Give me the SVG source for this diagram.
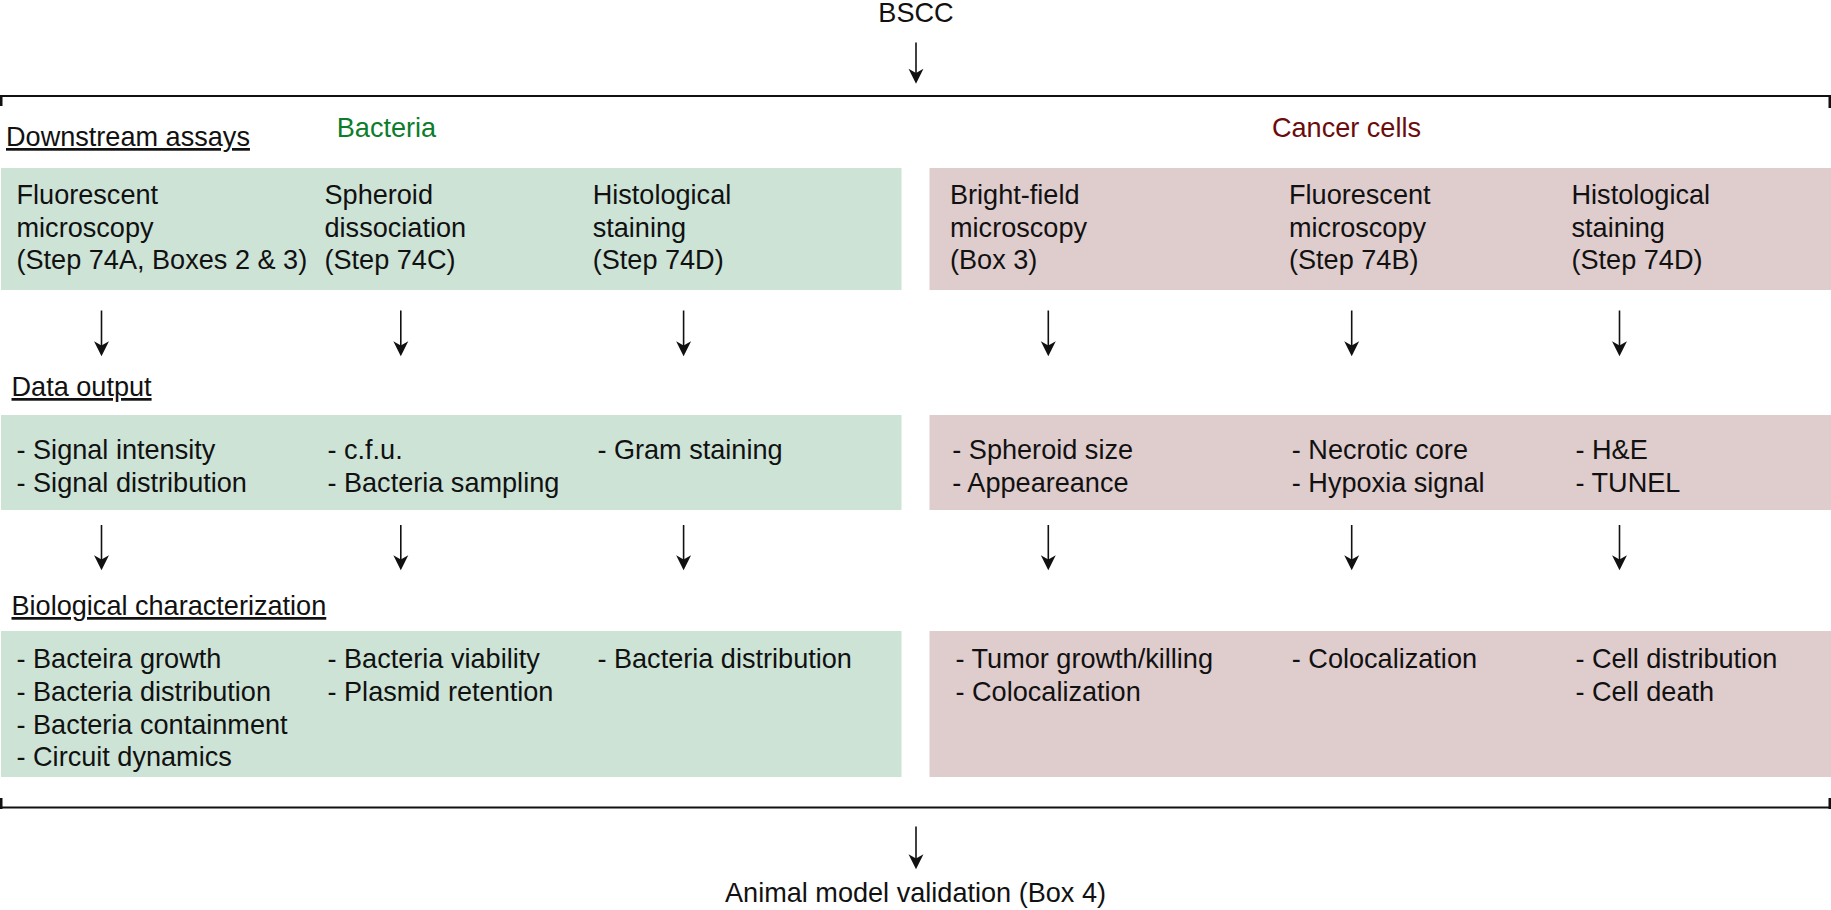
<svg xmlns="http://www.w3.org/2000/svg" width="1831" height="910" viewBox="0 0 1831 910">
<style>
text{font-family:"Liberation Sans",Arial,sans-serif;font-size:27.1px;fill:#111}
.c{text-anchor:middle}
.u{text-decoration:underline}
.g{fill:#cde3d6}
.p{fill:#dfcccd}
.arr{stroke:#111;stroke-width:1.6;fill:none;marker-end:url(#ah)}
.br{stroke:#111;stroke-width:2.2;fill:none}
.tk{fill:#111}
</style>
<defs>
<marker id="ah" markerUnits="userSpaceOnUse" markerWidth="16" markerHeight="16" viewBox="0 0 14 15" refX="10" refY="7.5" orient="auto">
<path d="M0,0.5 L14,7.5 L0,14.5 L4,7.5 Z" fill="#111"/>
</marker>
</defs>
<rect width="1831" height="910" fill="#fff"/>

<g id="bscc"><text class="c" x="916" y="22">BSCC</text></g>

<g id="brackets">
<line class="br" x1="0" y1="96" x2="1831" y2="96"/>
<rect class="tk" x="0" y="95" width="2.5" height="11"/>
<rect class="tk" x="1828.5" y="95" width="2.5" height="13"/>
<line class="br" x1="0" y1="807.5" x2="1831" y2="807.5"/>
<rect class="tk" x="0" y="798" width="2.5" height="11"/>
<rect class="tk" x="1828.5" y="798" width="2.5" height="11"/>
</g>

<g id="labels">
<text class="u" x="6" y="146">Downstream assays</text>
<text class="u" x="11.5" y="396">Data output</text>
<text class="u" x="11.5" y="615">Biological characterization</text>
<text class="c" x="386.5" y="136.7" style="fill:#0b7d2b">Bacteria</text>
<text class="c" x="1346.5" y="136.7" style="fill:#6b0c0c">Cancer cells</text>
</g>

<g id="bacteria-assays">
<rect class="g" x="1" y="168" width="900.5" height="122"/>
<g id="b-fluor"><text x="16.5" y="204">Fluorescent</text><text x="16.5" y="236.5">microscopy</text><text x="16.5" y="269">(Step 74A, Boxes 2 &amp; 3)</text></g>
<g id="b-spheroid"><text x="324.5" y="204">Spheroid</text><text x="324.5" y="236.5">dissociation</text><text x="324.5" y="269">(Step 74C)</text></g>
<g id="b-histo"><text x="592.7" y="204">Histological</text><text x="592.7" y="236.5">staining</text><text x="592.7" y="269">(Step 74D)</text></g>
</g>

<g id="cancer-assays">
<rect class="p" x="929.5" y="168" width="901.5" height="122"/>
<g id="c-bright"><text x="950" y="204">Bright-field</text><text x="950" y="236.5">microscopy</text><text x="950" y="269">(Box 3)</text></g>
<g id="c-fluor"><text x="1289" y="204">Fluorescent</text><text x="1289" y="236.5">microscopy</text><text x="1289" y="269">(Step 74B)</text></g>
<g id="c-histo"><text x="1571.5" y="204">Histological</text><text x="1571.5" y="236.5">staining</text><text x="1571.5" y="269">(Step 74D)</text></g>
</g>

<g id="bacteria-data">
<rect class="g" x="1" y="415" width="900.5" height="95"/>
<g id="bd-1"><text x="16.5" y="458.5">- Signal intensity</text><text x="16.5" y="491.5">- Signal distribution</text></g>
<g id="bd-2"><text x="327.4" y="458.5">- c.f.u.</text><text x="327.4" y="491.5">- Bacteria sampling</text></g>
<g id="bd-3"><text x="597.4" y="458.5">- Gram staining</text></g>
</g>

<g id="cancer-data">
<rect class="p" x="929.5" y="415" width="901.5" height="95"/>
<g id="cd-1"><text x="952.3" y="458.5">- Spheroid size</text><text x="952.3" y="491.5">- Appeareance</text></g>
<g id="cd-2"><text x="1291.8" y="458.5">- Necrotic core</text><text x="1291.8" y="491.5">- Hypoxia signal</text></g>
<g id="cd-3"><text x="1575.5" y="458.5">- H&amp;E</text><text x="1575.5" y="491.5">- TUNEL</text></g>
</g>

<g id="bacteria-bio">
<rect class="g" x="1" y="631" width="900.5" height="146"/>
<g id="bb-1"><text x="16.5" y="668.3">- Bacteira growth</text><text x="16.5" y="701">- Bacteria distribution</text><text x="16.5" y="733.5">- Bacteria containment</text><text x="16.5" y="766">- Circuit dynamics</text></g>
<g id="bb-2"><text x="327.5" y="668.3">- Bacteria viability</text><text x="327.5" y="701">- Plasmid retention</text></g>
<g id="bb-3"><text x="597.4" y="668.3">- Bacteria distribution</text></g>
</g>

<g id="cancer-bio">
<rect class="p" x="929.5" y="631" width="901.5" height="146"/>
<g id="cb-1"><text x="955.5" y="668.3">- Tumor growth/killing</text><text x="955.5" y="701">- Colocalization</text></g>
<g id="cb-2"><text x="1291.8" y="668.3">- Colocalization</text></g>
<g id="cb-3"><text x="1575.5" y="668.3">- Cell distribution</text><text x="1575.5" y="701">- Cell death</text></g>
</g>

<g id="animal"><text class="c" x="915.5" y="901.5">Animal model validation (Box 4)</text></g>

<g id="connectors">
<line class="arr" x1="916" y1="42.5" x2="916" y2="79.5"/>
<line class="arr" x1="101.5" y1="310.5" x2="101.5" y2="352"/>
<line class="arr" x1="400.8" y1="310.5" x2="400.8" y2="352"/>
<line class="arr" x1="683.6" y1="310.5" x2="683.6" y2="352"/>
<line class="arr" x1="1048.3" y1="310.5" x2="1048.3" y2="352"/>
<line class="arr" x1="1351.7" y1="310.5" x2="1351.7" y2="352"/>
<line class="arr" x1="1619.5" y1="310.5" x2="1619.5" y2="352"/>
<line class="arr" x1="101.5" y1="525" x2="101.5" y2="566"/>
<line class="arr" x1="400.8" y1="525" x2="400.8" y2="566"/>
<line class="arr" x1="683.6" y1="525" x2="683.6" y2="566"/>
<line class="arr" x1="1048.3" y1="525" x2="1048.3" y2="566"/>
<line class="arr" x1="1351.7" y1="525" x2="1351.7" y2="566"/>
<line class="arr" x1="1619.5" y1="525" x2="1619.5" y2="566"/>
<line class="arr" x1="916" y1="826.5" x2="916" y2="865"/>
</g>
</svg>
